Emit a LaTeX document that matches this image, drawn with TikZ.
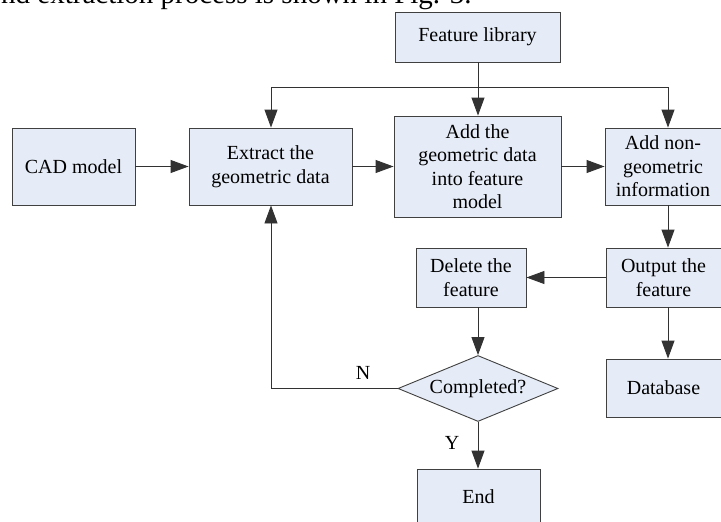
\documentclass[tikz,border=0pt]{standalone}
\usepackage{fontspec}
\setmainfont{Liberation Serif}
\usetikzlibrary{arrows.meta,shapes.geometric}
\definecolor{boxfill}{RGB}{230,236,247}
\definecolor{boxline}{RGB}{64,64,64}
\definecolor{conn}{RGB}{50,50,50}
\begin{document}
\begin{tikzpicture}[x=1pt,y=-1pt,
  box/.style={draw=boxline, fill=boxfill, line width=0.9pt, align=center, inner sep=2pt,
    font=\fontsize{20}{23.5}\selectfont},
  decide/.style={diamond, draw=boxline, fill=boxfill, line width=0.9pt, inner sep=0pt,
    aspect=2.42, font=\fontsize{20}{23.5}\selectfont},
  arr/.style={draw=conn, line width=0.9pt, -{Triangle[length=18pt,width=13pt]}},
  ln/.style={draw=conn, line width=0.9pt},
  lbl/.style={font=\fontsize{20}{24}\selectfont, inner sep=0pt}
]
\useasboundingbox (0,0) rectangle (721,522);
\clip (0,0) rectangle (721,522);
\fill[white] (0,0) rectangle (721,522);

\node[anchor=base west, inner sep=0pt, font=\fontsize{29}{30}\selectfont] (toptext) at (1,3) {nd extraction process is shown in Fig. 3.};

\node[box, minimum width=165pt, minimum height=50pt] (fl) at (477.5,37) {Feature library};
\node[box, minimum width=123pt, minimum height=77pt] (cad) at (73.5,166.5) {CAD model};
\node[box, minimum width=163pt, minimum height=77pt] (ext) at (270.5,166.5) {Extract the\\geometric data};
\node[box, minimum width=167pt, minimum height=101pt] (addg) at (477.5,166.5) {Add the\\geometric data\\into feature\\model};
\node[box, minimum width=116pt, minimum height=77pt] (addn) at (663,166.5) {Add non-\\geometric\\information};
\node[box, minimum width=115pt, minimum height=59pt] (out) at (663.5,277.5) {Output the\\feature};
\node[box, minimum width=110pt, minimum height=59pt] (del) at (471,277.5) {Delete the\\feature};
\node[decide, minimum width=160pt, minimum height=66pt] (comp) at (478,388.5) {Completed?};
\node[box, minimum width=115pt, minimum height=58pt] (db) at (663.5,388) {Database};
\node[box, minimum width=123pt, minimum height=56pt] (end) at (478.5,497) {End};

\coordinate (jl) at (271,87);
\coordinate (jr) at (668,87);
\coordinate (jm) at (478,87);
\coordinate (lb) at (271,388.5);

\draw[ln] (jl) -- (jr);
\draw[arr] (fl.south -| jm) -- (jm |- addg.north);
\draw[arr] (jl) -- (jl |- ext.north);
\draw[arr] (jr) -- (jr |- addn.north);
\draw[arr] (cad.east) -- (ext.west);
\draw[arr] (ext.east) -- (addg.west |- ext.east);
\draw[arr] (addg.east) -- (addn.west |- addg.east);
\draw[arr] (jr |- addn.south) -- (jr |- out.north);
\draw[arr] (out.west) -- (del.east);
\draw[arr] (jr |- out.south) -- (jr |- db.north);
\draw[arr] (jm |- del.south) -- (comp.north);
\draw[arr] (comp.south) -- (end.north -| comp.south);
\draw[ln] (comp.west) -- (lb);
\draw[arr] (lb) -- (lb |- ext.south);

\node[lbl] (n) at (363,373) {N};
\node[lbl] (y) at (452,443) {Y};
\end{tikzpicture}
\end{document}
